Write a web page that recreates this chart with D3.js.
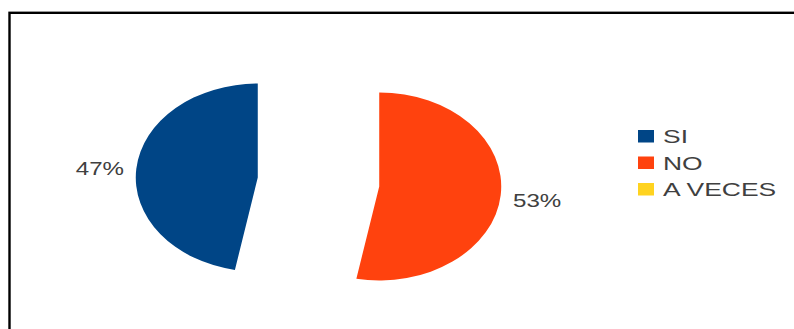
<!DOCTYPE html>
<html>
<head>
<meta charset="utf-8">
<script src="https://cdn.jsdelivr.net/npm/d3@7"></script>
<style>
  html, body { margin: 0; padding: 0; background: #fff; }
  svg { display: block; }
  text { font-family: "Liberation Sans", Arial, sans-serif; fill: #404040; }
</style>
</head>
<body>
<svg id="chart" width="794" height="329"></svg>
<script>
// Answers to the survey question
const categories = ["SI", "NO", "A VECES"];
const values = [47, 53, 0];
const colors = ["#004586", "#ff420e", "#ffd320"];

const W = 794, H = 329;
const svg = d3.select("#chart");

// Chart frame (runs off the right and bottom edges)
svg.append("rect")
  .attr("x", 9.5).attr("y", 12.8)
  .attr("width", W).attr("height", H)
  .attr("fill", "none")
  .attr("stroke", "#000")
  .attr("stroke-width", 2.4);

// Flattened, exploded pie
const cx = 318.5, cy = 182;
const rx = 122, ry = 94;
const squash = ry / rx;
const explode = 0.5 * rx;
const textStretch = 1.34;

const pie = d3.pie().sort(null).value(d => d)
  .startAngle(0).endAngle(-2 * Math.PI);
const arcs = pie(values);
const arc = d3.arc().innerRadius(0).outerRadius(rx);
const total = d3.sum(values);

arcs.forEach((a, i) => {
  if (a.data <= 0) return;
  const mid = (a.startAngle + a.endAngle) / 2;
  const ox = explode * Math.sin(mid);
  const oy = -explode * Math.cos(mid) * squash;
  const sx = cx + ox, sy = cy + oy;

  svg.append("path")
    .attr("transform", `translate(${sx},${sy}) scale(1,${squash})`)
    .attr("d", arc(a))
    .attr("fill", colors[i]);

  // Percentage label outside the slice
  const lr = 1.3 * rx;
  const lx = sx + lr * Math.sin(mid);
  const ly = sy - lr * Math.cos(mid) * squash + 3;
  svg.append("text")
    .attr("transform", `translate(${lx},${ly}) scale(${textStretch},1)`)
    .attr("text-anchor", "middle")
    .attr("dominant-baseline", "central")
    .attr("font-size", 18)
    .text(Math.round(a.data / total * 100) + "%");
});

// Legend
const legend = svg.append("g").attr("transform", "translate(638,130)");
categories.forEach((c, i) => {
  const g = legend.append("g").attr("transform", `translate(0,${i * 26.5})`);
  g.append("rect")
    .attr("x", 0).attr("y", 0)
    .attr("width", 16).attr("height", 12.5)
    .attr("fill", colors[i]);
  g.append("text")
    .attr("transform", `translate(25,13) scale(1.47,1)`)
    .attr("font-size", 18)
    .text(c);
});
</script>
</body>
</html>
